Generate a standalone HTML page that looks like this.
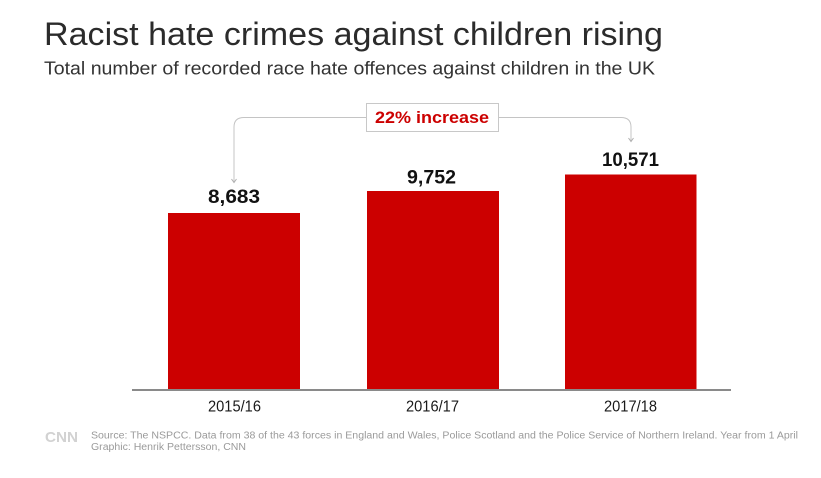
<!DOCTYPE html>
<html>
<head>
<meta charset="utf-8">
<style>
  html, body { margin: 0; padding: 0; background: #ffffff; }
  body { width: 821px; height: 478px; overflow: hidden; }
  svg { display: block; }
  text { font-family: "Liberation Sans", "DejaVu Sans", sans-serif; }
</style>
</head>
<body>
<svg width="821" height="478" viewBox="0 0 821 478" xmlns="http://www.w3.org/2000/svg">
  <rect x="0" y="0" width="821" height="478" fill="#ffffff"/>

  <!-- Title & subtitle -->
  <text x="44" y="45" font-size="32" fill="#2b2b2b" textLength="619" lengthAdjust="spacingAndGlyphs">Racist hate crimes against children rising</text>
  <text x="44" y="74.5" font-size="18" fill="#333333" textLength="611" lengthAdjust="spacingAndGlyphs">Total number of recorded race hate offences against children in the UK</text>

  <!-- Bracket -->
  <path d="M234,182 V127 Q234,117.5 244,117.5 H366 M498,117.5 H621 Q631,117.5 631,127 V141" fill="none" stroke="#c4c4c4" stroke-width="1"/>
  <path d="M231.5,179 L234,182.5 L236.5,179" fill="none" stroke="#b0b0b0" stroke-width="1"/>
  <path d="M628.5,138 L631,141.5 L633.5,138" fill="none" stroke="#b0b0b0" stroke-width="1"/>

  <!-- Annotation box -->
  <rect x="366.5" y="103.5" width="132" height="28" fill="#ffffff" stroke="#c8c8c8" stroke-width="1"/>
  <text x="375" y="123" font-size="17" font-weight="bold" fill="#cc0000" textLength="114" lengthAdjust="spacingAndGlyphs">22% increase</text>

  <!-- Bars -->
  <rect x="168" y="213" width="132" height="177" fill="#cc0000"/>
  <rect x="367" y="191" width="132" height="199" fill="#cc0000"/>
  <rect x="565" y="174.5" width="131.5" height="215.5" fill="#cc0000"/>

  <!-- Value labels -->
  <text x="208" y="203" font-size="19" font-weight="bold" fill="#111111" textLength="52" lengthAdjust="spacingAndGlyphs">8,683</text>
  <text x="407" y="183.3" font-size="19" font-weight="bold" fill="#111111" textLength="49" lengthAdjust="spacingAndGlyphs">9,752</text>
  <text x="602" y="166" font-size="19" font-weight="bold" fill="#111111" textLength="57" lengthAdjust="spacingAndGlyphs">10,571</text>

  <!-- Axis -->
  <rect x="132" y="389" width="599" height="2" fill="#8a8a8a"/>

  <!-- X labels -->
  <text x="208" y="411.5" font-size="16" fill="#1a1a1a" textLength="53" lengthAdjust="spacingAndGlyphs">2015/16</text>
  <text x="406" y="411.5" font-size="16" fill="#1a1a1a" textLength="53" lengthAdjust="spacingAndGlyphs">2016/17</text>
  <text x="604" y="411.5" font-size="16" fill="#1a1a1a" textLength="53" lengthAdjust="spacingAndGlyphs">2017/18</text>

  <!-- Footer -->
  <text x="45" y="442" font-size="15" font-weight="bold" fill="#d2d2d2" textLength="33" lengthAdjust="spacingAndGlyphs">CNN</text>
  <text x="91" y="438.5" font-size="10" fill="#9a9a9a" textLength="707" lengthAdjust="spacingAndGlyphs">Source: The NSPCC. Data from 38 of the 43 forces in England and Wales, Police Scotland and the Police Service of Northern Ireland. Year from 1 April</text>
  <text x="91" y="450" font-size="10" fill="#9a9a9a" textLength="155" lengthAdjust="spacingAndGlyphs">Graphic: Henrik Pettersson, CNN</text>
</svg>
</body>
</html>
